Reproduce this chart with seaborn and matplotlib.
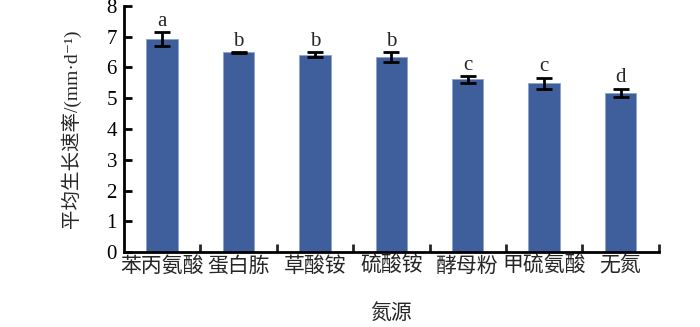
import matplotlib
matplotlib.use("Agg")
import matplotlib.pyplot as plt
import seaborn as sns
import pandas as pd
from matplotlib.ticker import FixedLocator

categories = ["苯丙氨酸", "蛋白胨", "草酸铵", "硫酸铵", "酵母粉", "甲硫氨酸", "无氮"]
means = [6.93, 6.49, 6.42, 6.34, 5.61, 5.48, 5.17]
errors = [0.22, 0.01, 0.07, 0.15, 0.12, 0.19, 0.14]
letters = ["a", "b", "b", "b", "c", "c", "d"]
yticks = [0, 1, 2, 3, 4, 5, 6, 7, 8]

sns.set_theme(style="white")
plt.rcParams['font.family'] = ['Liberation Serif', 'Noto Sans CJK SC', 'DejaVu Sans']

df = pd.DataFrame({"cat": categories, "val": means})

fig = plt.figure(figsize=(7.0, 3.27), dpi=100)
ax = fig.add_axes([0.177, 0.229, 0.764, 0.753])

sns.barplot(data=df, x="cat", y="val", ax=ax, color="#3E5E9C", width=0.41,
            edgecolor="#8DA3CC", linewidth=0.6, saturation=1)

xs = list(range(len(categories)))
ax.errorbar(xs, means, yerr=errors, fmt="none", ecolor="black",
            elinewidth=2, capsize=6, capthick=2)
for x, m, e, l in zip(xs, means, errors, letters):
    ax.text(x, m + e + 0.04, l, ha="center", va="bottom", fontsize=15,
            family="Liberation Serif")

ax.set_xlim(-0.5, len(categories) - 0.5)
ax.set_ylim(0, 8)
ax.set_yticks(yticks)
ax.set_yticklabels([str(v) for v in yticks], fontsize=15, family="Liberation Serif")
ax.set_xticks(xs)
ax.set_xticklabels(categories, fontsize=15, family=["Noto Sans CJK SC"])
ax.xaxis.set_minor_locator(FixedLocator([i + 0.5 for i in xs]))

ax.tick_params(axis="y", direction="in", length=6, width=2, left=True, pad=5, colors="black")
ax.tick_params(axis="x", which="major", length=0, pad=2)
ax.tick_params(axis="x", which="minor", direction="in", length=6, width=2, bottom=True)

for s in ["top", "right"]:
    ax.spines[s].set_visible(False)
for s in ["left", "bottom"]:
    ax.spines[s].set_color("black")
    ax.spines[s].set_linewidth(2)

ax.set_xlabel("氮源", fontsize=15, family=["Noto Sans CJK SC"], labelpad=18)
ax.set_ylabel("平均生长速率/(mm·d⁻¹)", fontsize=14,
              family=["Liberation Serif", "Noto Sans CJK SC", "DejaVu Sans"], labelpad=18)

fig.savefig("out.png", dpi=100)
